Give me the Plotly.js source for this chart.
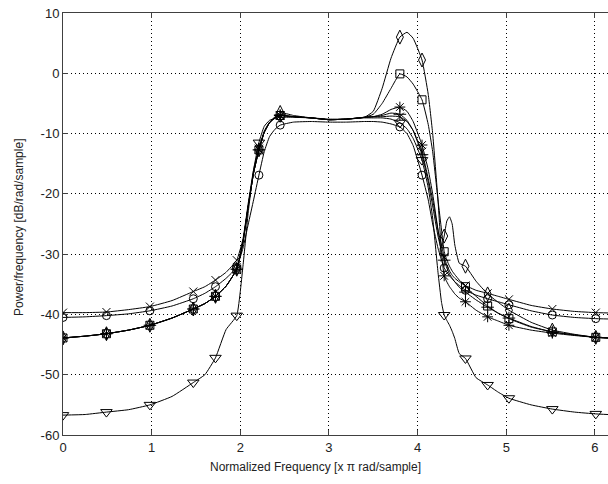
<!DOCTYPE html>
<html>
<head>
<meta charset="utf-8">
<script src="https://cdn.plot.ly/plotly-3.0.1.min.js"></script>
<style>
html, body { margin:0; padding:0; overflow:hidden; background:#fff; }
#chart { width:640px; height:484px; }
</style>
</head>
<body>
<div id="chart"></div>
<script>
// Frequency grid (x π rad/sample as labelled)
const freq = [0, 0.25, 0.49, 0.74, 0.98, 1.23, 1.47, 1.60, 1.72, 1.84,
  1.96, 2.03, 2.09, 2.15, 2.21, 2.27, 2.33, 2.39, 2.45, 2.60,
  2.80, 3.00, 3.20, 3.40, 3.50, 3.60, 3.70, 3.80, 3.88, 3.95,
  4.05, 4.12, 4.17, 4.23, 4.27, 4.30, 4.33, 4.36, 4.39, 4.42,
  4.47, 4.54, 4.66, 4.79, 4.91, 5.03, 5.28, 5.52, 5.77, 6.01, 6.28];

// grid positions that carry a marker
const markerIdx = [0, 2, 4, 6, 8, 10, 14, 18, 27, 30, 35, 41, 43, 45, 47, 49];

const psdCircle = [-40.5, -40.4, -40.2, -39.9, -39.4, -38.6, -37.4, -36.5, -35.4, -34.0,
  -32.2, -29.0, -25.0, -21.0, -16.9, -13.0, -10.5, -9.3, -8.6, -8.1,
  -8.0, -8.1, -8.1, -8.0, -8.0, -8.1, -8.4, -8.9, -10.0, -12.0,
  -16.9, -21.0, -25.0, -29.0, -31.0, -32.3, -33.0, -33.6, -34.1, -34.6,
  -35.2, -36.0, -36.8, -37.4, -37.9, -38.4, -39.4, -40.1, -40.5, -40.7, -40.8];

const psdX = [-39.7, -39.7, -39.6, -39.2, -38.7, -37.7, -36.2, -35.4, -34.3, -33.0,
  -31.0, -27.5, -21.5, -16.0, -12.5, -9.6, -8.1, -7.4, -7.0, -7.2,
  -7.4, -7.7, -7.6, -7.3, -7.2, -7.2, -7.1, -7.2, -8.0, -9.5,
  -13.0, -17.5, -21.0, -26.0, -28.5, -30.5, -31.8, -32.8, -33.5, -34.0,
  -34.6, -35.2, -36.0, -36.5, -37.0, -37.5, -38.5, -39.1, -39.5, -39.7, -39.8];

const psdPlus = [-43.9, -43.6, -43.2, -42.6, -41.8, -40.6, -39.1, -38.2, -37.0, -35.3,
  -32.5, -28.0, -22.0, -16.5, -12.7, -9.8, -8.2, -7.4, -7.0, -7.2,
  -7.4, -7.7, -7.6, -7.3, -7.2, -7.0, -6.6, -6.8, -7.8, -9.5,
  -13.5, -18.0, -22.0, -27.0, -29.5, -31.0, -32.3, -33.3, -34.0, -34.6,
  -35.5, -36.3, -37.6, -38.8, -39.8, -40.6, -42.0, -42.9, -43.4, -43.8, -44.0];

const psdStar = [-43.9, -43.6, -43.2, -42.6, -41.8, -40.6, -39.1, -38.2, -37.0, -35.3,
  -32.5, -28.0, -22.0, -16.5, -12.7, -9.8, -8.2, -7.4, -7.0, -7.2,
  -7.4, -7.7, -7.6, -7.3, -7.2, -6.8, -6.0, -5.6, -6.3, -8.0,
  -11.9, -16.0, -20.0, -26.0, -30.0, -33.6, -34.6, -35.4, -36.0, -36.6,
  -37.3, -37.9, -39.3, -40.4, -41.1, -41.8, -42.6, -43.1, -43.5, -43.8, -44.0];

const psdSquare = [-43.9, -43.6, -43.2, -42.6, -41.8, -40.6, -39.1, -38.2, -37.0, -35.3,
  -32.5, -28.0, -22.0, -16.5, -12.7, -9.8, -8.2, -7.4, -7.0, -7.2,
  -7.4, -7.7, -7.6, -7.3, -6.8, -5.0, -2.5, -0.1, -0.6, -1.8,
  -4.4, -8.5, -13.0, -21.0, -26.0, -29.6, -31.0, -32.0, -32.8, -33.4,
  -34.3, -35.4, -37.0, -38.6, -39.8, -40.7, -42.1, -42.9, -43.4, -43.8, -44.0];

const psdDiamond = [-43.9, -43.6, -43.2, -42.6, -41.8, -40.6, -39.1, -38.2, -37.0, -35.3,
  -32.5, -28.0, -22.0, -16.5, -12.7, -9.8, -8.2, -7.2, -6.5, -7.0,
  -7.4, -7.7, -7.6, -7.3, -6.3, -2.5, 2.5, 6.0, 6.8, 5.8,
  2.2, -3.5, -10.0, -21.0, -29.0, -27.0, -24.5, -23.8, -25.0, -28.5,
  -31.5, -32.0, -34.5, -36.6, -38.0, -39.3, -41.3, -42.6, -43.3, -43.8, -44.0];

const psdTriangle = [-56.7, -56.6, -56.2, -55.8, -55.0, -53.6, -51.3, -50.0, -47.2, -42.5,
  -40.2, -32.0, -23.0, -16.0, -11.5, -8.8, -7.8, -7.5, -7.3, -7.3,
  -7.4, -7.6, -7.6, -7.4, -7.4, -7.4, -7.6, -8.2, -9.2, -10.8,
  -14.4, -19.0, -24.0, -33.0, -38.0, -40.1, -41.0, -41.8, -42.8, -44.0,
  -46.5, -47.3, -50.5, -51.7, -52.9, -53.9, -55.0, -55.7, -56.2, -56.5, -56.7];

const series = [
  {y: psdCircle, symbol: 'circle-open', size: 8},
  {y: psdX, symbol: 'x-thin-open', size: 8},
  {y: psdPlus, symbol: 'cross-thin-open', size: 9},
  {y: psdStar, symbol: 'asterisk-open', size: 9},
  {y: psdSquare, symbol: 'square-open', size: 8},
  {y: psdDiamond, symbol: 'diamond-tall-open', size: 10},
  {y: psdTriangle, symbol: 'triangle-down-open', size: 10}
];

const traces = [];
series.forEach(s => {
  traces.push({
    x: freq, y: s.y, type: 'scatter', mode: 'lines',
    line: {color: '#000', width: 1, shape: 'spline', smoothing: 0.4},
    hoverinfo: 'skip', showlegend: false
  });
});
series.forEach(s => {
  traces.push({
    x: markerIdx.map(i => freq[i]), y: markerIdx.map(i => s.y[i]),
    type: 'scatter', mode: 'markers',
    marker: {symbol: s.symbol, size: s.size, color: '#000', line: {color: '#000', width: 1}},
    showlegend: false
  });
});

const xTicks = [0, 1, 2, 3, 4, 5, 6];
const yTicks = [-60, -50, -40, -30, -20, -10, 0, 10];
const fontFam = 'Liberation Sans, Arial, sans-serif';

const axisCommon = {
  showline: true, mirror: 'ticks', linecolor: '#404040', linewidth: 1,
  ticks: 'inside', ticklen: 5, tickcolor: '#404040', tickwidth: 1,
  showgrid: true, gridcolor: '#000', gridwidth: 1, griddash: '1px,3px',
  zeroline: false, tickfont: {family: fontFam, size: 13, color: '#222'}
};

const layout = {
  width: 640, height: 484,
  margin: {l: 63, r: 20, t: 13, b: 49},
  paper_bgcolor: '#fff', plot_bgcolor: '#fff',
  showlegend: false,
  xaxis: Object.assign({}, axisCommon, {range: [0, 2 * Math.PI], tickvals: xTicks, ticktext: xTicks.map(String)}),
  yaxis: Object.assign({}, axisCommon, {range: [-60, 10], tickvals: yTicks, ticktext: yTicks.map(String)}),
  annotations: [
    {text: 'Normalized Frequency [x π rad/sample]', xref: 'paper', yref: 'paper',
     x: 0.454, y: -0.076, xanchor: 'center', yanchor: 'middle', showarrow: false,
     font: {family: fontFam, size: 12, color: '#222'}},
    {text: 'Power/frequency [dB/rad/sample]', xref: 'paper', yref: 'paper',
     x: -0.079, y: 0.493, xanchor: 'center', yanchor: 'middle', textangle: -90, showarrow: false,
     font: {family: fontFam, size: 12, color: '#222'}}
  ]
};

Plotly.newPlot('chart', traces, layout, {staticPlot: true, displayModeBar: false});
</script>
</body>
</html>
